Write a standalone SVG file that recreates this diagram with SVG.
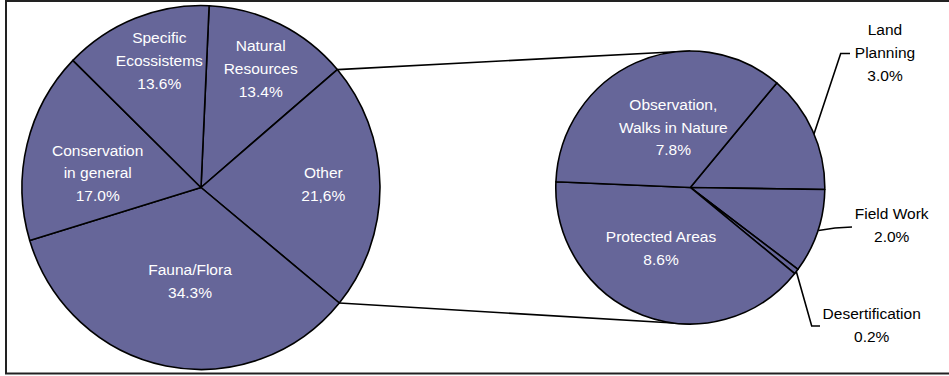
<svg xmlns="http://www.w3.org/2000/svg" width="949" height="376" viewBox="0 0 949 376">
<style>
.slice{fill:#666699;stroke:#000;stroke-width:1.6;stroke-linejoin:round}
.in{fill:#fff;font-family:"Liberation Sans",Arial,sans-serif;font-size:15.5px;text-anchor:middle}
.out{fill:#000;font-family:"Liberation Sans",Arial,sans-serif;font-size:15.5px;text-anchor:middle}
.ln{fill:none;stroke:#000;stroke-width:1.6}
</style>
<rect width="949" height="376" fill="#fff"/>
<rect x="6" y="1" width="960" height="372.5" fill="none" stroke="#222" stroke-width="2"/>
<g id="connectors">
<path class="ln" d="M337.3,69.6 L690.3,51"/>
<path class="ln" d="M339.3,303 L690.3,324"/>
<path class="ln" d="M813.8,134.5 L840.7,53.5 L850,53.5"/>
<path class="ln" d="M818.5,230.5 L835,228 L852,227"/>
<path class="ln" d="M796.3,271.5 L811.7,326 L820,326"/>
</g>
<g id="natural-resources">
<path class="slice" d="M201,187.5 L209.12,5.69 A179,182 0 0 1 337.31,69.55 Z"/>
<text class="in" x="260.7" y="51">Natural</text>
<text class="in" x="260.7" y="74">Resources</text>
<text class="in" x="260.7" y="96.7">13.4%</text>
</g>
<g id="other">
<path class="slice" d="M201,187.5 L337.31,69.55 A179,182 0 0 1 339.31,303.01 Z"/>
<text class="in" x="323.3" y="178.3">Other</text>
<text class="in" x="323.3" y="201">21,6%</text>
</g>
<g id="fauna-flora">
<path class="slice" d="M201,187.5 L339.31,303.01 A179,182 0 0 1 29.73,240.41 Z"/>
<text class="in" x="190" y="275">Fauna/Flora</text>
<text class="in" x="190" y="297.7">34.3%</text>
</g>
<g id="conservation">
<path class="slice" d="M201,187.5 L29.73,240.41 A179,182 0 0 1 72.89,60.39 Z"/>
<text class="in" x="97.7" y="155.7">Conservation</text>
<text class="in" x="97.7" y="178.3">in general</text>
<text class="in" x="97.7" y="201">17.0%</text>
</g>
<g id="specific-ecossistems">
<path class="slice" d="M201,187.5 L72.89,60.39 A179,182 0 0 1 209.12,5.69 Z"/>
<text class="in" x="159.3" y="43.3">Specific</text>
<text class="in" x="159.3" y="66">Ecossistems</text>
<text class="in" x="159.3" y="89">13.6%</text>
</g>
<g id="land-planning">
<path class="slice" d="M690.3,187.5 L776.75,82.93 A134.5,136.5 0 0 1 824.79,189.53 Z"/>
<text class="out" x="885" y="35">Land</text>
<text class="out" x="885" y="58">Planning</text>
<text class="out" x="885" y="80.5">3.0%</text>
</g>
<g id="field-work">
<path class="slice" d="M690.3,187.5 L824.79,189.53 A134.5,136.5 0 0 1 797.99,269.27 Z"/>
<text class="out" x="891.7" y="219">Field Work</text>
<text class="out" x="891.7" y="242">2.0%</text>
</g>
<g id="desertification">
<path class="slice" d="M690.3,187.5 L797.99,269.27 A134.5,136.5 0 0 1 794.74,273.52 Z"/>
<text class="out" x="871.7" y="319.3">Desertification</text>
<text class="out" x="871.7" y="342.3">0.2%</text>
</g>
<g id="protected-areas">
<path class="slice" d="M690.3,187.5 L794.74,273.52 A134.5,136.5 0 0 1 555.92,181.78 Z"/>
<text class="in" x="661" y="242.3">Protected Areas</text>
<text class="in" x="661" y="265">8.6%</text>
</g>
<g id="observation">
<path class="slice" d="M690.3,187.5 L555.92,181.78 A134.5,136.5 0 0 1 776.75,82.93 Z"/>
<text class="in" x="673.3" y="110">Observation,</text>
<text class="in" x="673.3" y="132.5">Walks in Nature</text>
<text class="in" x="673.3" y="155">7.8%</text>
</g>
</svg>
